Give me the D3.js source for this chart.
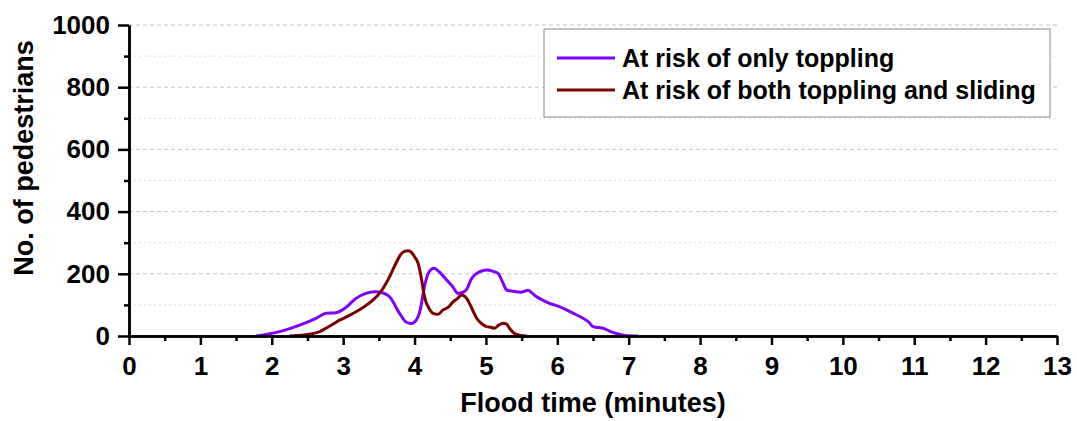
<!DOCTYPE html>
<meta charset="UTF-8">
<style>
    body { margin: 0; background: #fff; }
    text { font-family: "Liberation Sans", Arial, sans-serif; font-weight: bold; fill: #000; }
    .line { fill: none; stroke-width: 3px; stroke-linejoin: round; }
    .axis path, .axis line { stroke: #000; stroke-width: 2.5px; }
</style>
<body>
<div id="chart"></div>
<script src="https://d3js.org/d3.v7.min.js"></script>
<script>

// data: flood time (minutes) vs number of pedestrians
var toppleTime = [1.78, 2.11, 2.39, 2.62, 2.76, 2.9, 3.04, 3.18, 3.32, 3.45, 3.55, 3.65, 3.79, 3.88, 3.95, 4.02, 4.08, 4.14, 4.2, 4.27, 4.35, 4.45, 4.53, 4.61, 4.67, 4.73, 4.8, 4.87, 4.95, 5.01, 5.1, 5.17, 5.24, 5.29, 5.36, 5.43, 5.5, 5.59, 5.65, 5.71, 5.8, 5.89, 6.0, 6.13, 6.25, 6.36, 6.44, 6.5, 6.58, 6.64, 6.74, 6.83, 6.95, 7.13];
var toppleVal  = [0, 14, 35, 57, 73, 75, 92, 121, 137, 142, 139, 126, 73, 45, 40, 50, 84, 160, 205, 218, 205, 180, 160, 137, 140, 150, 185, 201, 210, 212, 208, 201, 170, 148, 145, 142, 141, 147, 137, 126, 115, 105, 97, 84, 70, 57, 45, 30, 27, 25, 15, 8, 2, 0];

var bothTime = [2.25, 2.45, 2.58, 2.68, 2.76, 2.85, 2.95, 3.06, 3.18, 3.3, 3.42, 3.52, 3.6, 3.67, 3.74, 3.8, 3.86, 3.91, 3.96, 4.0, 4.05, 4.1, 4.14, 4.2, 4.26, 4.33, 4.4, 4.47, 4.54, 4.6, 4.66, 4.73, 4.8, 4.87, 4.94, 5.01, 5.07, 5.12, 5.18, 5.24, 5.29, 5.33, 5.4, 5.48, 5.57];
var bothVal  = [0, 3, 8, 15, 25, 37, 51, 63, 78, 95, 116, 140, 169, 200, 234, 260, 272, 274, 268, 255, 234, 180, 126, 90, 73, 70, 84, 92, 110, 120, 132, 121, 90, 57, 40, 30, 28, 25, 35, 41, 38, 25, 8, 2, 0];

var seriesNames = ["At risk of only toppling", "At risk of both toppling and sliding"];
var seriesColors = ["#8000ff", "#7b0000"];

var xTicks = d3.range(0, 14, 1);
var yTicks = [0, 200, 400, 600, 800, 1000];

// set the dimensions and margins of the graph
var margin = {top: 25, right: 20, bottom: 85, left: 129},
    width = 1057 - margin.left,
    height = 336 - margin.top;

var x = d3.scaleLinear().domain([0, 13]).range([0, width]);
var y = d3.scaleLinear().domain([0, 1000]).range([height, 0]);

var svg = d3.select("#chart").append("svg")
    .attr("width", 1077)
    .attr("height", 421)
    .append("g")
    .attr("transform", "translate(" + margin.left + "," + margin.top + ")");

// grid lines
svg.selectAll(".grid")
    .data(d3.range(100, 1001, 100))
    .enter().append("line")
    .attr("x1", 0).attr("x2", width)
    .attr("y1", function(d) { return y(d); })
    .attr("y2", function(d) { return y(d); })
    .attr("stroke", function(d) { return d % 200 === 0 ? "#c4c4c4" : "#dcdcdc"; })
    .attr("stroke-width", 1)
    .attr("stroke-dasharray", function(d) { return d % 200 === 0 ? "4,3" : "2,3"; });

// lines
var valueline = d3.line()
    .x(function(d) { return x(d[0]); })
    .y(function(d) { return y(d[1]); })
    .curve(d3.curveMonotoneX);

var series = [d3.zip(toppleTime, toppleVal), d3.zip(bothTime, bothVal)];

svg.selectAll(".line")
    .data(series)
    .enter().append("path")
    .attr("class", "line")
    .attr("stroke", function(d, i) { return seriesColors[i]; })
    .attr("d", valueline);

// x axis: minor then major ticks
svg.append("g")
    .attr("class", "axis")
    .attr("transform", "translate(0," + height + ")")
    .call(d3.axisBottom(x).tickValues(d3.range(0.5, 13, 1)).tickSize(5).tickFormat("").tickSizeOuter(0));

var xAxis = svg.append("g")
    .attr("class", "axis")
    .attr("transform", "translate(0," + height + ")")
    .call(d3.axisBottom(x).tickValues(xTicks).tickSize(9).tickPadding(12).tickSizeOuter(0));
xAxis.selectAll("text").style("font-size", "26px");

// y axis
svg.append("g")
    .attr("class", "axis")
    .call(d3.axisLeft(y).tickValues(d3.range(100, 1000, 200)).tickSize(5).tickFormat("").tickSizeOuter(0));

var yAxis = svg.append("g")
    .attr("class", "axis")
    .call(d3.axisLeft(y).tickValues(yTicks).tickSize(11).tickPadding(8).tickFormat(d3.format("d")).tickSizeOuter(0));
yAxis.selectAll("text").style("font-size", "26px");

// axis titles
svg.append("text")
    .attr("x", 593 - margin.left)
    .attr("y", 412 - margin.top)
    .attr("text-anchor", "middle")
    .style("font-size", "27px")
    .text("Flood time (minutes)");

svg.append("text")
    .attr("transform", "rotate(-90)")
    .attr("x", -133)
    .attr("y", -96)
    .attr("text-anchor", "middle")
    .style("font-size", "27px")
    .text("No. of pedestrians");

// legend
var legend = svg.append("g")
    .attr("transform", "translate(" + (544 - margin.left) + "," + (29 - margin.top) + ")");

legend.append("rect")
    .attr("width", 506).attr("height", 88)
    .attr("fill", "#fff")
    .attr("stroke", "#888").attr("stroke-width", 1);

var item = legend.selectAll(".item")
    .data(seriesNames)
    .enter().append("g")
    .attr("transform", function(d, i) { return "translate(0," + (29 + i * 32) + ")"; });

item.append("line")
    .attr("x1", 13).attr("x2", 71)
    .attr("stroke", function(d, i) { return seriesColors[i]; })
    .attr("stroke-width", 3);

item.append("text")
    .attr("x", 78)
    .attr("dy", "0.35em")
    .style("font-size", "25px")
    .text(function(d) { return d; });

</script>
</body>
